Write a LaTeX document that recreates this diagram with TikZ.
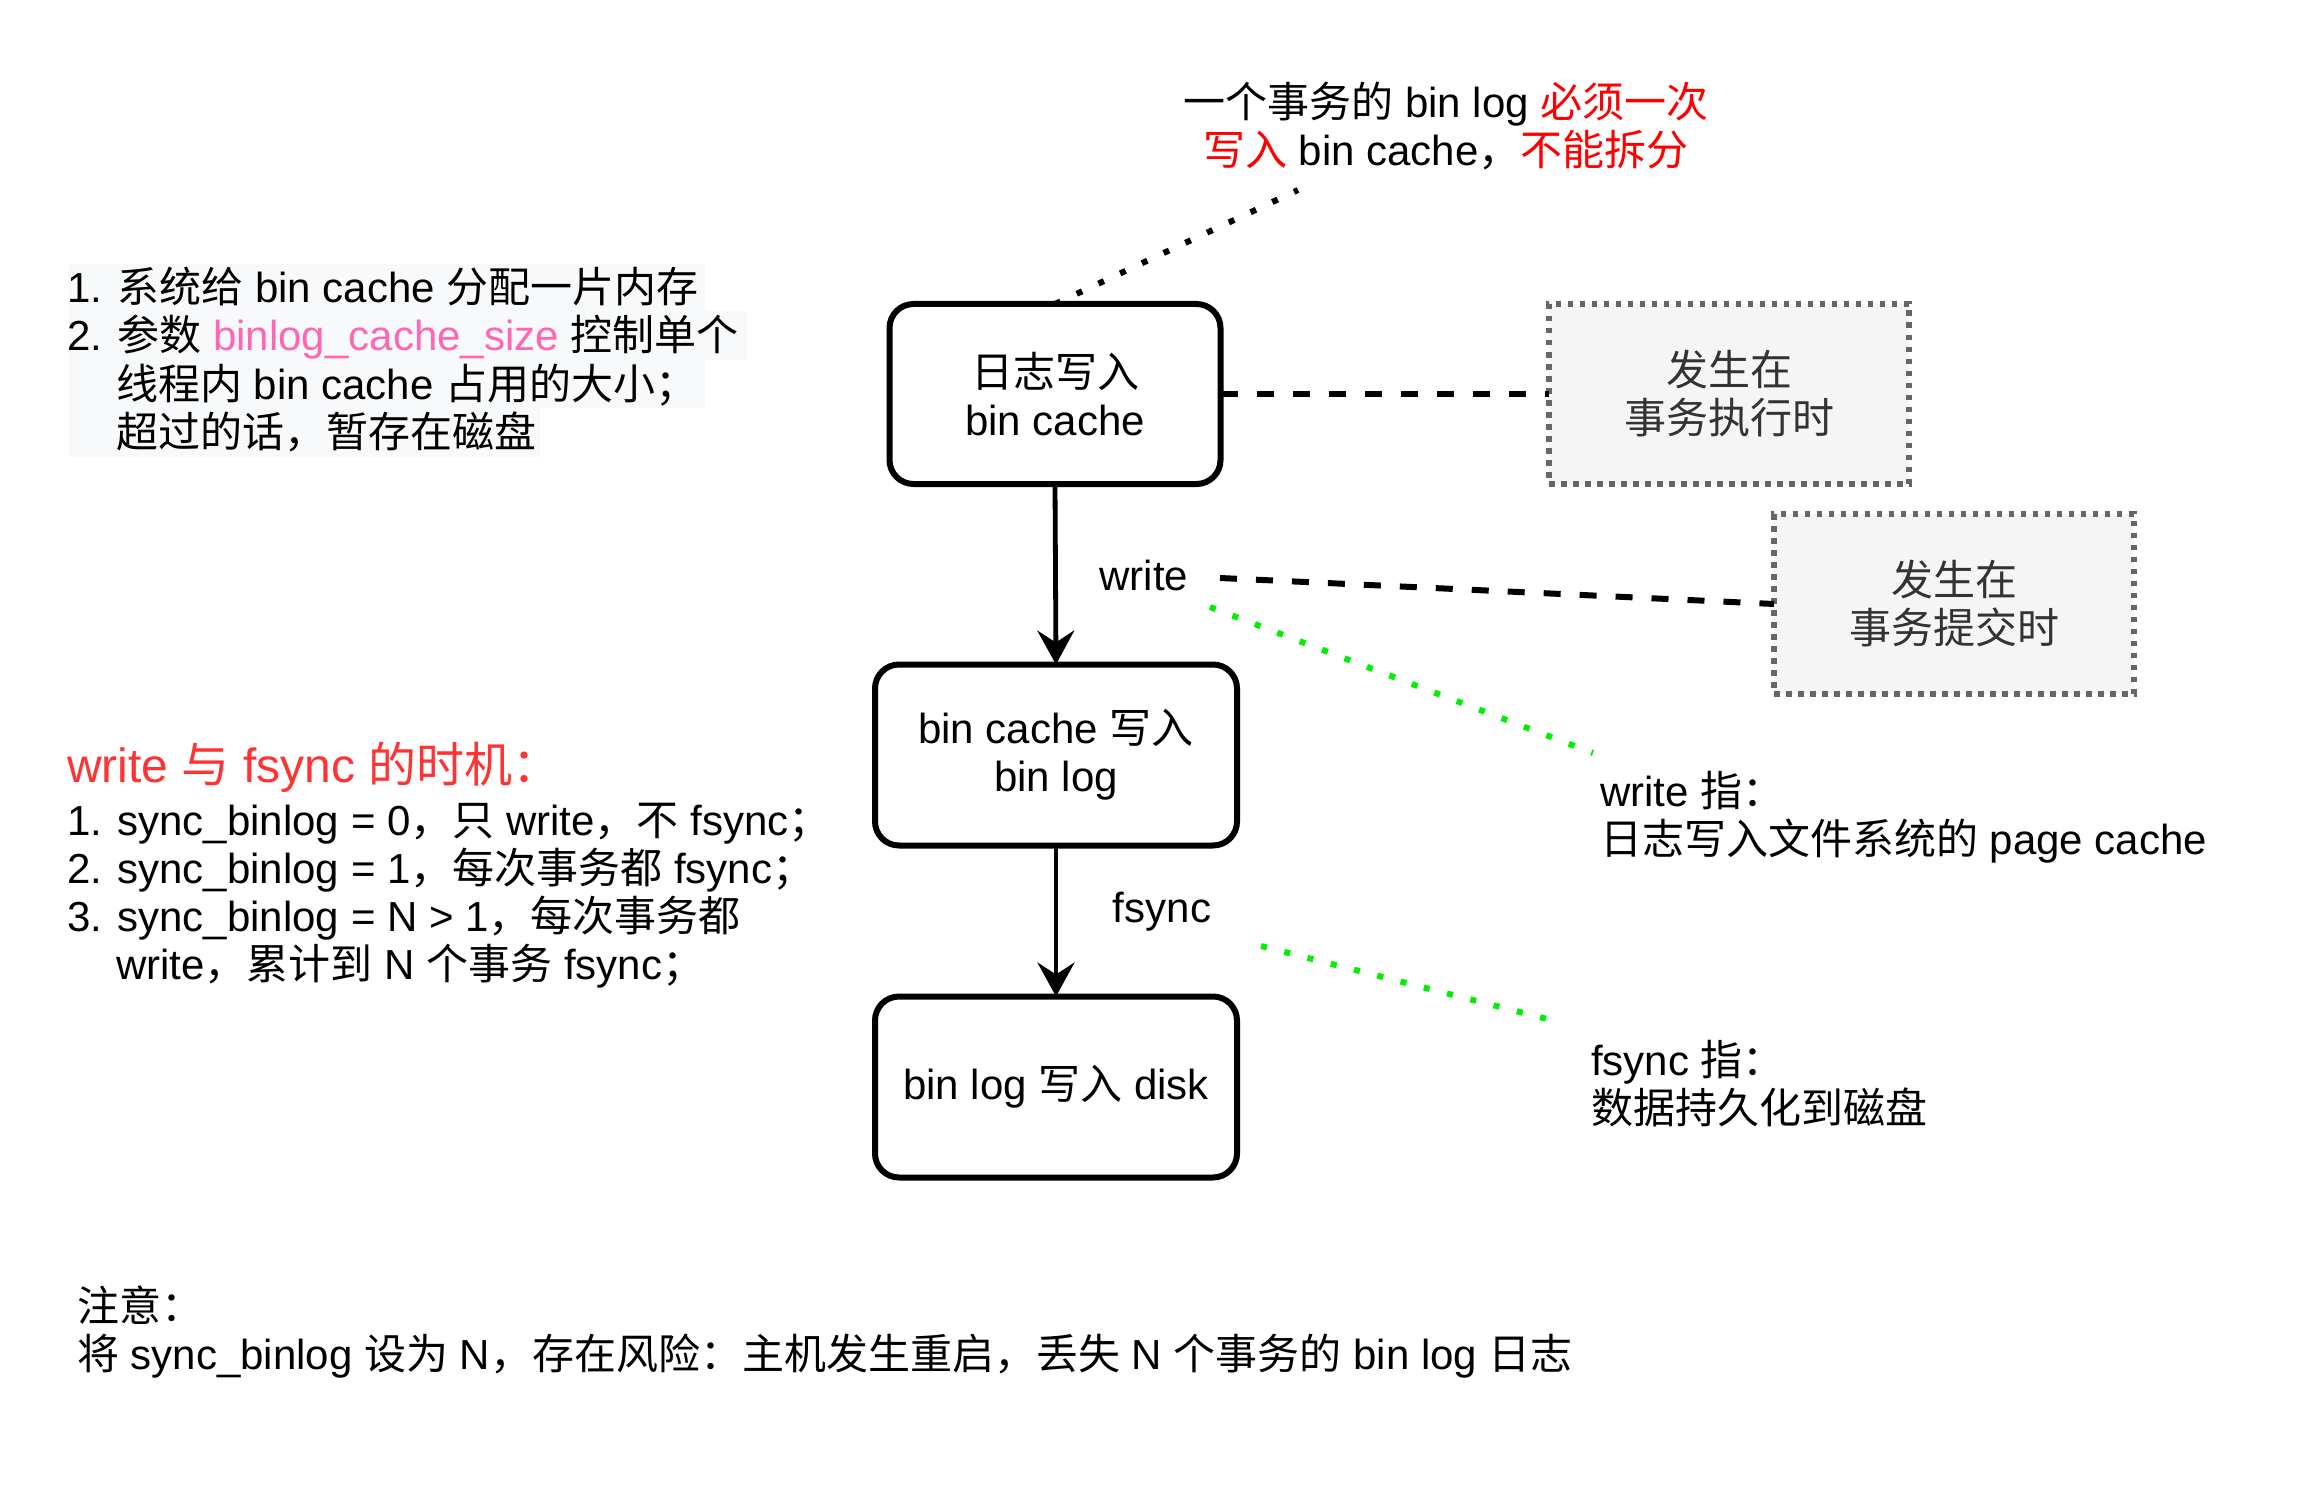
\documentclass[tikz,border=0pt]{standalone}
\usepackage{fontspec}
\setmainfont{Liberation Sans}
\newfontfamily\cjk{Noto Sans CJK SC}
\usetikzlibrary{arrows.meta}
\newcommand\zh[1]{{\cjk #1}}
\definecolor{redA}{HTML}{FF0000}
\definecolor{redB}{HTML}{FF3333}
\definecolor{pinkA}{HTML}{FF66B3}
\definecolor{lgreen}{HTML}{00F000}
\definecolor{grayfill}{HTML}{F5F5F5}
\definecolor{graystroke}{HTML}{666666}
\definecolor{graytext}{HTML}{333333}
\definecolor{hlbg}{HTML}{F8F9FA}
\begin{document}
\begin{tikzpicture}[x=1pt,y=-1pt,
  txt/.style={font=\fontsize{42}{48}\selectfont, inner sep=0pt, outer sep=0pt},
  lft/.style={txt, anchor=base west},
  ctr/.style={txt, anchor=base},
  flowbox/.style={draw, line width=6pt, rounded corners=24pt, align=center,
    font=\fontsize{42}{48}\selectfont, inner sep=0pt, outer sep=0pt, minimum height=181pt},
  notebox/.style={draw=graystroke, fill=grayfill, line width=5.5pt, dash pattern=on 5.5pt off 6.5pt,
    minimum width=360pt, minimum height=180pt, align=center, text=graytext,
    font=\fontsize{42}{48}\selectfont, inner sep=0pt, outer sep=0pt},
  arr/.style={-{Stealth[length=34pt,width=37pt,inset=12pt]}, line width=4.8pt},
  dashlink/.style={line width=6pt, dash pattern=on 17pt off 19pt},
  dotlink/.style={line width=6pt, dash pattern=on 6pt off 18pt},
  greenlink/.style={dotlink, draw=lgreen}
]
\fill[white] (0,0) rectangle (2316,1506);
\useasboundingbox (0,0) rectangle (2316,1506);

% highlighted note block
\fill[hlbg] (69,264) rectangle (705,311);
\fill[hlbg] (69,311) rectangle (747,360);
\fill[hlbg] (69,360) rectangle (705,408);
\fill[hlbg] (69,408) rectangle (540,457);
\node[lft] (n1) at (67,303) {1. \zh{系统给} bin cache \zh{分配一片内存}};
\node[lft] (n2) at (67,351) {2. \zh{参数} \textcolor{pinkA}{binlog\_cache\_size} \zh{控制单个}};
\node[lft] (n3) at (116,399) {\zh{线程内} bin cache \zh{占用的大小；}};
\node[lft] (n4) at (116,447) {\zh{超过的话，暂存在磁盘}};

% timing block
\node[lft, font=\fontsize{48}{56}\selectfont, text=redB] (t0) at (67,782) {write \zh{与} fsync \zh{的时机：}};
\node[lft] (t1) at (67,835) {1. sync\_binlog = 0\zh{，只} write\zh{，不} fsync\zh{；}};
\node[lft] (t2) at (67,883) {2. sync\_binlog = 1\zh{，每次事务都} fsync\zh{；}};
\node[lft] (t3) at (67,931) {3. sync\_binlog = N > 1\zh{，每次事务都}};
\node[lft] (t4) at (116,979) {write\zh{，累计到} N \zh{个事务} fsync\zh{；}};

% top note
\node[ctr] (top1) at (1446,118) {\zh{一个事务的} bin log \textcolor{redA}{\zh{必须一次}}};
\node[ctr] (top2) at (1446,166) {\textcolor{redA}{\zh{写入}} bin cache\zh{，}\textcolor{redA}{\zh{不能拆分}}};

% right notes
\node[lft] (r1) at (1600,806) {write \zh{指：}};
\node[lft] (r2) at (1600,854) {\zh{日志写入文件系统的} page cache};
\node[lft] (r3) at (1591,1075) {fsync \zh{指：}};
\node[lft] (r4) at (1591,1123) {\zh{数据持久化到磁盘}};

% bottom note
\node[lft] (b01) at (77,1321) {\zh{注意：}};
\node[lft] (b02) at (77,1369) {\zh{将} sync\_binlog \zh{设为} N\zh{，存在风险：主机发生重启，丢失} N \zh{个事务的} bin log \zh{日志}};

% flow boxes
\node[flowbox, minimum width=331pt, minimum height=180pt] (b1) at (1055,394) {\zh{日志写入}\\bin cache};
\node[flowbox, minimum width=362pt] (b2) at (1056,755) {bin cache \zh{写入}\\bin log};
\node[flowbox, minimum width=362pt] (b3) at (1056,1087) {bin log \zh{写入} disk};

% gray boxes
\node[notebox] (g1) at (1729,394) {\zh{发生在}\\\zh{事务执行时}};
\node[notebox] (g2) at (1954,604) {\zh{发生在}\\\zh{事务提交时}};

% edge labels
\node[ctr] (wl) at (1144,590) {write};
\node[ctr] (fl) at (1162,922) {fsync};

% connectors
\draw[arr] (b1.south) -- (b2.north);
\draw[arr] (b2.south) -- (b3.north);
\draw[dashlink] (b1.east) -- (g1.west);
\coordinate (wr) at (1220,578);
\draw[dashlink] (wr) -- (g2.west);
\coordinate (topend) at (1298,190);
\draw[dotlink] (b1.north) -- (topend);
\coordinate (gs1) at (1210,607);
\coordinate (ge1) at (1593,753);
\draw[greenlink] (gs1) -- (ge1);
\coordinate (gs2) at (1261,946);
\coordinate (ge2) at (1563,1023);
\draw[greenlink] (gs2) -- (ge2);
\end{tikzpicture}
\end{document}
